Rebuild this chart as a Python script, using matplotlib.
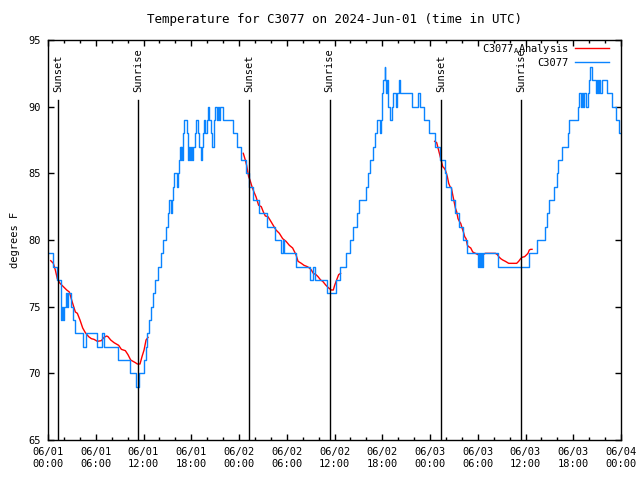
import matplotlib
matplotlib.use("Agg")
import matplotlib.pyplot as plt
import matplotlib.dates as mdates
import numpy as np

# observed temps (hours after 2024-06-01 00:00 UTC, deg F)
c3077_obs = [(0, 79), (0.59, 78), (1.15, 77), (1.6, 74), (1.75, 75), (1.9, 74), (2.05, 75),
             (2.25, 76), (2.45, 75), (2.55, 76), (2.85, 75), (3.1, 74), (3.4, 73), (4.44, 72),
             (4.8, 73), (6.1, 72), (6.75, 73), (7.0, 72), (8.8, 71), (10.3, 70), (11.1, 69),
             (11.4, 70), (12.1, 71), (12.3, 72), (12.5, 73), (12.75, 74), (12.95, 75), (13.2, 76),
             (13.45, 77), (13.8, 78), (14.2, 79), (14.5, 80), (14.85, 81), (15.08, 82), (15.24, 83),
             (15.5, 82), (15.6, 83), (15.7, 84), (15.8, 85), (16.25, 84), (16.35, 85), (16.5, 86),
             (16.6, 87), (16.68, 86), (16.76, 87), (16.83, 86), (17.0, 88), (17.1, 89), (17.42, 88),
             (17.55, 86), (17.7, 87), (17.84, 86), (17.92, 87), (18.1, 86), (18.26, 87), (18.43, 88),
             (18.55, 89), (18.85, 88), (19.0, 87), (19.18, 86), (19.3, 87), (19.43, 88), (19.6, 89),
             (19.77, 88), (19.94, 89), (20.1, 90), (20.27, 89), (20.45, 88), (20.6, 87), (20.8, 88),
             (20.9, 89), (21.02, 90), (21.2, 89), (21.3, 90), (21.44, 89), (21.61, 90), (21.95, 89),
             (23.3, 88), (23.8, 87), (24.3, 86), (24.9, 85), (25.3, 84), (25.72, 83), (26.47, 82),
             (27.48, 81), (28.57, 80), (29.24, 79), (29.5, 80), (29.6, 79), (31.2, 78), (32.95, 77),
             (33.25, 78), (33.6, 77), (35.1, 76), (36.2, 77), (36.7, 78), (37.4, 79), (37.9, 80),
             (38.3, 81), (38.8, 82), (39.1, 83), (39.9, 84), (40.15, 85), (40.5, 86), (40.85, 87),
             (41.1, 88), (41.3, 89), (41.7, 88), (41.85, 89), (42.0, 91), (42.15, 92), (42.3, 93),
             (42.4, 92), (42.5, 91), (42.6, 92), (42.7, 90), (43.0, 89), (43.2, 90), (43.4, 91),
             (43.73, 90), (43.9, 91), (44.1, 92), (44.25, 91), (45.7, 90), (46.45, 91), (46.75, 90),
             (47.2, 89), (47.9, 88), (48.6, 87), (49.3, 86), (49.85, 85), (50.02, 84), (50.7, 83),
             (51.1, 82), (51.6, 81), (52.1, 80), (52.7, 79), (54.0, 78), (54.1, 79), (54.25, 78),
             (54.35, 79), (54.55, 78), (54.7, 79), (56.6, 78), (60.4, 79), (61.4, 80), (62.4, 81),
             (62.7, 82), (62.9, 83), (63.6, 84), (63.9, 85), (64.1, 86), (64.6, 87), (65.4, 88),
             (65.5, 89), (66.6, 90), (66.75, 91), (66.95, 90), (67.05, 91), (67.25, 90), (67.35, 91),
             (67.6, 90), (67.85, 91), (68.0, 92), (68.15, 93), (68.35, 92), (68.8, 91), (69.0, 92),
             (69.1, 91), (69.25, 92), (69.4, 91), (69.6, 92), (70.2, 91), (70.9, 90), (71.4, 89),
             (71.75, 88), (72.0, 88)]

# analysis, one piece per night
analysis_n1 = [(0.34, 78.45), (0.67, 78.25), (0.92, 77.75), (1.17, 77.1), (1.51, 76.75),
               (1.93, 76.5), (2.35, 76.25), (2.68, 76.1), (3.02, 75.4), (3.44, 74.6), (3.69, 74.5),
               (4.02, 74.0), (4.36, 73.4), (4.69, 73.05), (5.11, 72.75), (5.45, 72.6), (5.78, 72.55),
               (6.2, 72.4), (6.7, 72.45), (7.04, 72.7), (7.37, 72.8), (7.54, 72.75), (7.88, 72.5),
               (8.3, 72.3), (8.88, 72.1), (9.22, 71.8), (9.72, 71.7), (10.05, 71.4), (10.39, 71.0),
               (10.98, 70.8), (11.23, 70.7), (11.56, 70.7), (11.81, 71.25), (12.07, 71.75),
               (12.32, 72.5), (12.57, 72.7)]
analysis_n2 = [(24.54, 86.5), (24.79, 86.0), (24.96, 85.6), (25.21, 84.75), (25.38, 84.5),
               (25.63, 84.0), (25.88, 83.6), (26.13, 83.25), (26.47, 82.6), (26.8, 82.5),
               (27.06, 82.1), (27.31, 81.8), (27.64, 81.75), (27.9, 81.5), (28.15, 81.25),
               (28.4, 81.0), (28.65, 80.75), (29.07, 80.5), (29.49, 80.1), (29.91, 79.9),
               (30.33, 79.6), (30.74, 79.4), (30.99, 79.1), (31.16, 78.9), (31.42, 78.4),
               (31.83, 78.25), (32.17, 78.1), (32.59, 78.0), (32.84, 77.9), (33.09, 77.75),
               (33.34, 77.5), (33.68, 77.4), (33.93, 77.25), (34.26, 77.0), (34.52, 76.9),
               (34.93, 76.6), (35.27, 76.4), (35.6, 76.25), (35.85, 76.25), (36.02, 76.6),
               (36.27, 77.0), (36.52, 77.4), (36.77, 77.5)]
analysis_n3 = [(48.59, 87.4), (48.84, 87.3), (49.01, 86.9), (49.35, 86.1), (49.6, 85.5),
               (49.77, 85.4), (49.93, 85.25), (50.18, 84.75), (50.35, 84.25), (50.52, 84.0),
               (50.69, 83.9), (50.85, 83.4), (51.02, 82.9), (51.19, 82.4), (51.36, 82.1),
               (51.52, 81.6), (51.69, 81.4), (51.86, 81.25), (52.03, 80.9), (52.2, 80.6),
               (52.36, 80.25), (52.53, 80.1), (52.7, 79.6), (52.87, 79.5), (53.12, 79.4),
               (53.37, 79.1), (53.7, 79.0), (54.04, 78.9), (54.29, 78.9), (54.63, 78.9),
               (54.96, 79.0), (55.3, 79.0), (55.8, 79.0), (56.22, 79.0), (56.47, 78.9),
               (56.64, 78.75), (56.89, 78.6), (57.14, 78.5), (57.47, 78.4), (57.89, 78.25),
               (58.89, 78.25), (59.14, 78.4), (59.39, 78.6), (59.56, 78.7), (59.89, 78.75),
               (60.15, 78.9), (60.31, 79.0), (60.48, 79.25), (60.65, 79.3), (60.82, 79.3)]

sun_events = ["Sunset", "Sunrise", "Sunset", "Sunrise", "Sunset", "Sunrise"]
sun_hours = [1.27, 11.3, 25.28, 35.38, 49.38, 59.45]

start = np.datetime64("2024-06-01T00:00")


def to_time(hours):
    return start + (np.asarray(hours) * 3600).astype("timedelta64[s]")


mono = "DejaVu Sans Mono"
plt.rcParams["font.family"] = mono
plt.rcParams["font.size"] = 7.5

fig = plt.figure(figsize=(6.4, 4.8), dpi=100)
ax = fig.add_axes([48 / 640, 40 / 480, 573 / 640, 400 / 480])

first = True
for seg in (analysis_n1, analysis_n2, analysis_n3):
    h, t = zip(*seg)
    ax.plot(to_time(h), t, color="red", lw=1,
            label=r"C3077$_\mathregular{A}$Analysis" if first else None)
    first = False

h, t = zip(*c3077_obs)
ax.plot(to_time(h), t, color="#0a84ff", lw=1, drawstyle="steps-post", label="C3077")

for name, hr in zip(sun_events, sun_hours):
    x = to_time([hr])[0]
    ax.plot([x, x], [65, 90.5], color="black", lw=1, zorder=4)
    ax.text(x, 91.1, name, rotation=90, ha="center", va="bottom")

ax.set_xlim(to_time([0])[0], to_time([72])[0])
ax.set_ylim(65, 95)
ax.set_yticks(range(65, 96, 5))
ax.xaxis.set_major_locator(mdates.HourLocator(byhour=[0, 6, 12, 18]))
ax.xaxis.set_minor_locator(mdates.HourLocator(byhour=range(0, 24, 2)))
ax.xaxis.set_major_formatter(mdates.DateFormatter("%m/%d\n%H:%M"))
ax.tick_params(which="both", direction="in", top=True, right=True, width=1)
ax.tick_params(which="major", length=4, pad=5)
ax.tick_params(which="minor", length=2)
for s in ax.spines.values():
    s.set_linewidth(1)

ax.set_ylabel("degrees F", labelpad=6)
ax.set_title("Temperature for C3077 on 2024-Jun-01 (time in UTC)", pad=12)

ax.legend(loc="upper right", bbox_to_anchor=(0.983, 1.0), frameon=False,
          handlelength=3.3, handletextpad=0.6, markerfirst=False,
          borderaxespad=0.0, borderpad=0.2, labelspacing=0.15)

fig.savefig("out.png", dpi=100)
